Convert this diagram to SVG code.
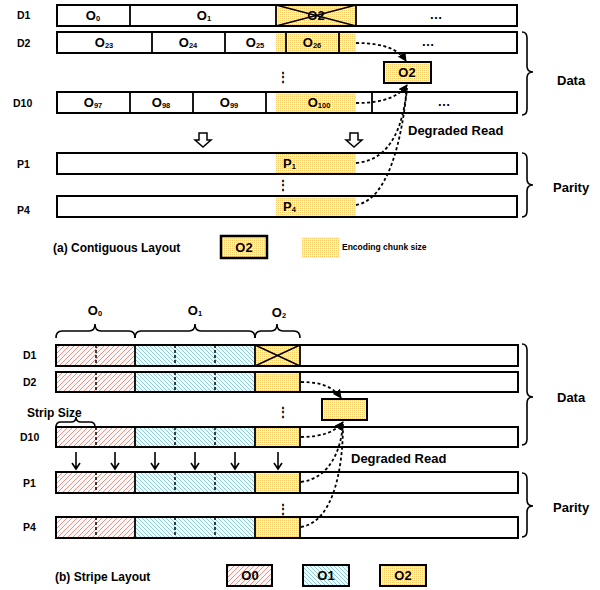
<svg xmlns="http://www.w3.org/2000/svg" width="600" height="590" viewBox="0 0 600 590">
<defs>
  <pattern id="dots" width="2" height="2" patternUnits="userSpaceOnUse">
    <rect width="2" height="2" fill="#FFF3CE"/>
    <rect width="1" height="1" fill="#F6CB66"/>
  </pattern>
  <pattern id="red" width="5" height="5" patternUnits="userSpaceOnUse">
    <rect width="5" height="5" fill="#FFF8F7"/>
    <path d="M-1,1 l2,-2 M0,5 l5,-5 M4,6 l2,-2" stroke="#E07A6E" stroke-width="0.8"/>
  </pattern>
  <pattern id="blue" width="4" height="4" patternUnits="userSpaceOnUse">
    <rect width="4" height="4" fill="#F7FCFE"/>
    <path d="M-1,3 l2,2 M0,0 l4,4 M3,-1 l2,2" stroke="#6FC0DA" stroke-width="0.8"/>
  </pattern>
  <marker id="ah" viewBox="0 0 10 10" refX="9" refY="5" markerWidth="9" markerHeight="9" markerUnits="userSpaceOnUse" orient="auto">
    <path d="M0,0 L10,5 L0,10 Z" fill="#000"/>
  </marker>
  <style>
    text { font-family: "Liberation Sans", Arial, sans-serif; font-weight: bold; fill: #000; }
    .lbl { font-size: 10.5px; }
    .o { font-size: 13px; text-anchor: middle; }
    .sub { font-size: 7.5px; }
    .big { font-size: 13px; }
    .cap { font-size: 12px; }
    .row { fill: #fff; stroke: #000; stroke-width: 2; }
    .box { stroke: #000; stroke-width: 2; }
    .div { stroke: #000; stroke-width: 1.8; }
    .dd { stroke: #000; stroke-width: 1.5; stroke-dasharray: 3 2; }
    .brace { fill: none; stroke: #000; stroke-width: 1.6; }
    .curve { fill: none; stroke: #000; stroke-width: 1.8; stroke-dasharray: 3 2.5; }
    .dots3 { font-size: 12px; text-anchor: middle; }
  </style>
</defs>
<rect width="600" height="590" fill="#fff"/>

<!-- ===== (a) Contiguous layout ===== -->
<g id="a-D1">
  <text class="lbl" x="17" y="19">D1</text>
  <rect class="row" x="57" y="5" width="460" height="21"/>
  <rect x="276" y="5" width="80" height="21" fill="url(#dots)"/>
  <line class="div" x1="130" y1="5" x2="130" y2="26"/>
  <line class="div" x1="276" y1="5" x2="276" y2="26"/>
  <line class="div" x1="356" y1="5" x2="356" y2="26"/>
  <rect x="57" y="5" width="460" height="21" fill="none" stroke="#000" stroke-width="2"/>
  <text class="o" x="93" y="20">O<tspan class="sub" dy="1">0</tspan></text>
  <text class="o" x="204" y="20">O<tspan class="sub" dy="1">1</tspan></text>
  <text class="o" x="316" y="20">O2</text>
  <line x1="276" y1="5" x2="356" y2="26" stroke="#000" stroke-width="1.5"/>
  <line x1="276" y1="26" x2="356" y2="5" stroke="#000" stroke-width="1.5"/>
  <text class="o" x="436" y="19">…</text>
</g>
<g id="a-D2">
  <text class="lbl" x="17" y="47">D2</text>
  <rect class="row" x="57" y="32" width="460" height="21"/>
  <rect x="276" y="32" width="80" height="21" fill="url(#dots)"/>
  <line class="div" x1="152" y1="32" x2="152" y2="53"/>
  <line class="div" x1="225" y1="32" x2="225" y2="53"/>
  <line class="div" x1="286" y1="32" x2="286" y2="53"/>
  <line class="div" x1="339" y1="32" x2="339" y2="53"/>
  <rect x="57" y="32" width="460" height="21" fill="none" stroke="#000" stroke-width="2"/>
  <text class="o" x="104" y="47">O<tspan class="sub" dy="1">23</tspan></text>
  <text class="o" x="188" y="47">O<tspan class="sub" dy="1">24</tspan></text>
  <text class="o" x="255" y="47">O<tspan class="sub" dy="1">25</tspan></text>
  <text class="o" x="312" y="47">O<tspan class="sub" dy="1">26</tspan></text>
  <text class="o" x="428" y="46">…</text>
</g>
<text class="dots3" x="283" y="81">⋮</text>
<g id="a-D10">
  <text class="lbl" x="13" y="107">D10</text>
  <rect class="row" x="57" y="92" width="460" height="21"/>
  <rect x="276" y="92" width="80" height="21" fill="url(#dots)"/>
  <line class="div" x1="130" y1="92" x2="130" y2="113"/>
  <line class="div" x1="193" y1="92" x2="193" y2="113"/>
  <line class="div" x1="266" y1="92" x2="266" y2="113"/>
  <line class="div" x1="372" y1="92" x2="372" y2="113"/>
  <rect x="57" y="92" width="460" height="21" fill="none" stroke="#000" stroke-width="2"/>
  <text class="o" x="93" y="107">O<tspan class="sub" dy="1">97</tspan></text>
  <text class="o" x="161" y="107">O<tspan class="sub" dy="1">98</tspan></text>
  <text class="o" x="229" y="107">O<tspan class="sub" dy="1">99</tspan></text>
  <text class="o" x="319" y="107">O<tspan class="sub" dy="1">100</tspan></text>
  <text class="o" x="444" y="106">…</text>
</g>
<g id="a-O2rec">
  <rect class="box" x="384" y="62" width="47" height="21" fill="url(#dots)"/>
  <text class="o" x="407" y="77">O2</text>
</g>
<g id="a-P1">
  <text class="lbl" x="17" y="168">P1</text>
  <rect class="row" x="57" y="153" width="460" height="21"/>
  <rect x="276" y="153" width="80" height="21" fill="url(#dots)"/>
  <rect x="57" y="153" width="460" height="21" fill="none" stroke="#000" stroke-width="2"/>
  <text class="big" x="283" y="168">P<tspan class="sub" dy="1">1</tspan></text>
</g>
<text class="dots3" x="283" y="189">⋮</text>
<g id="a-P4">
  <text class="lbl" x="17" y="214">P4</text>
  <rect class="row" x="57" y="196" width="460" height="21"/>
  <rect x="276" y="196" width="80" height="21" fill="url(#dots)"/>
  <rect x="57" y="196" width="460" height="21" fill="none" stroke="#000" stroke-width="2"/>
  <text class="big" x="283" y="211">P<tspan class="sub" dy="1">4</tspan></text>
</g>
<g id="a-braces">
  <path class="brace" d="M522,32 Q527,32 527,38 L527,66 Q527,72 533,72 Q527,72 527,78 L527,109 Q527,115 522,115"/>
  <text class="big" x="557" y="85">Data</text>
  <path class="brace" d="M522,153 Q527,153 527,159 L527,179 Q527,185 533,185 Q527,185 527,191 L527,211 Q527,217 522,217"/>
  <text class="big" x="553" y="192">Parity</text>
</g>
<text class="big" x="408" y="135">Degraded Read</text>
<g id="a-legend">
  <text class="cap" x="53" y="252">(a) Contiguous Layout</text>
  <rect x="221" y="236" width="46" height="22" fill="url(#dots)" stroke="#000" stroke-width="2.5"/>
  <text class="o" x="244" y="252">O2</text>
  <rect x="302" y="237" width="37" height="21" fill="url(#dots)"/>
  <text x="342" y="250" font-size="8.5">Encoding chunk size</text>
</g>

<!-- ===== (b) Stripe layout ===== -->
<g id="b-top-braces">
  <text class="o" x="95" y="315">O<tspan class="sub" dy="1">0</tspan></text>
  <text class="o" x="195" y="315">O<tspan class="sub" dy="1">1</tspan></text>
  <text class="o" x="279" y="317">O<tspan class="sub" dy="1">2</tspan></text>
  <path class="brace" d="M56,338 Q56,331 62,331 L89,331 Q95,331 95,324 Q95,331 101,331 L129,331 Q135,331 135,338"/>
  <path class="brace" d="M135,338 Q135,331 141,331 L189,331 Q195,331 195,324 Q195,331 201,331 L249,331 Q255,331 255,338"/>
  <path class="brace" d="M255,338 Q255,331 261,331 L271,331 Q277,331 277,324 Q277,331 283,331 L294,331 Q300,331 300,338"/>
</g>
<g id="b-D1">
  <text class="lbl" x="23" y="359">D1</text>
  <rect class="row" x="56" y="345" width="462" height="21"/>
  <rect x="56" y="345" width="79" height="21" fill="url(#red)"/>
  <rect x="135" y="345" width="120" height="21" fill="url(#blue)"/>
  <rect x="255" y="345" width="45" height="21" fill="url(#dots)"/>
  <line class="dd" x1="96" y1="345" x2="96" y2="366"/>
  <line class="dd" x1="175" y1="345" x2="175" y2="366"/>
  <line class="dd" x1="215" y1="345" x2="215" y2="366"/>
  <line class="div" x1="135" y1="345" x2="135" y2="366"/>
  <line class="div" x1="255" y1="345" x2="255" y2="366"/>
  <line class="div" x1="300" y1="345" x2="300" y2="366"/>
  <line x1="255" y1="345" x2="300" y2="366" stroke="#000" stroke-width="1.5"/>
  <line x1="255" y1="366" x2="300" y2="345" stroke="#000" stroke-width="1.5"/>
  <rect x="56" y="345" width="462" height="21" fill="none" stroke="#000" stroke-width="2"/>
</g>
<g id="b-D2">
  <text class="lbl" x="23" y="386">D2</text>
  <rect class="row" x="56" y="372" width="462" height="20"/>
  <rect x="56" y="372" width="79" height="20" fill="url(#red)"/>
  <rect x="135" y="372" width="120" height="20" fill="url(#blue)"/>
  <rect x="255" y="372" width="45" height="20" fill="url(#dots)"/>
  <line class="dd" x1="96" y1="372" x2="96" y2="392"/>
  <line class="dd" x1="175" y1="372" x2="175" y2="392"/>
  <line class="dd" x1="215" y1="372" x2="215" y2="392"/>
  <line class="div" x1="135" y1="372" x2="135" y2="392"/>
  <line class="div" x1="255" y1="372" x2="255" y2="392"/>
  <line class="div" x1="300" y1="372" x2="300" y2="392"/>
  <rect x="56" y="372" width="462" height="20" fill="none" stroke="#000" stroke-width="2"/>
</g>
<text class="dots3" x="283" y="416">⋮</text>
<g id="b-strip">
  <text x="27" y="417" font-size="12">Strip Size</text>
  <path class="brace" d="M56,427 Q56,422 61,422 L71,422 Q76,422 76,417 Q76,422 81,422 L90,422 Q95,422 95,427"/>
</g>
<g id="b-D10">
  <text class="lbl" x="20" y="441">D10</text>
  <rect class="row" x="56" y="427" width="462" height="20"/>
  <rect x="56" y="427" width="79" height="20" fill="url(#red)"/>
  <rect x="135" y="427" width="120" height="20" fill="url(#blue)"/>
  <rect x="255" y="427" width="45" height="20" fill="url(#dots)"/>
  <line class="dd" x1="96" y1="427" x2="96" y2="447"/>
  <line class="dd" x1="175" y1="427" x2="175" y2="447"/>
  <line class="dd" x1="215" y1="427" x2="215" y2="447"/>
  <line class="div" x1="135" y1="427" x2="135" y2="447"/>
  <line class="div" x1="255" y1="427" x2="255" y2="447"/>
  <line class="div" x1="300" y1="427" x2="300" y2="447"/>
  <rect x="56" y="427" width="462" height="20" fill="none" stroke="#000" stroke-width="2"/>
</g>
<g id="b-O2rec">
  <rect class="box" x="322" y="399" width="45" height="21" fill="url(#dots)"/>
</g>
<g id="b-P1">
  <text class="lbl" x="23" y="487">P1</text>
  <rect class="row" x="56" y="472" width="462" height="21"/>
  <rect x="56" y="472" width="79" height="21" fill="url(#red)"/>
  <rect x="135" y="472" width="120" height="21" fill="url(#blue)"/>
  <rect x="255" y="472" width="45" height="21" fill="url(#dots)"/>
  <line class="dd" x1="96" y1="472" x2="96" y2="493"/>
  <line class="dd" x1="175" y1="472" x2="175" y2="493"/>
  <line class="dd" x1="215" y1="472" x2="215" y2="493"/>
  <line class="div" x1="135" y1="472" x2="135" y2="493"/>
  <line class="div" x1="255" y1="472" x2="255" y2="493"/>
  <line class="div" x1="300" y1="472" x2="300" y2="493"/>
  <rect x="56" y="472" width="462" height="21" fill="none" stroke="#000" stroke-width="2"/>
</g>
<text class="dots3" x="283" y="513">⋮</text>
<g id="b-P4">
  <text class="lbl" x="23" y="531">P4</text>
  <rect class="row" x="56" y="517" width="462" height="21"/>
  <rect x="56" y="517" width="79" height="21" fill="url(#red)"/>
  <rect x="135" y="517" width="120" height="21" fill="url(#blue)"/>
  <rect x="255" y="517" width="45" height="21" fill="url(#dots)"/>
  <line class="dd" x1="96" y1="517" x2="96" y2="538"/>
  <line class="dd" x1="175" y1="517" x2="175" y2="538"/>
  <line class="dd" x1="215" y1="517" x2="215" y2="538"/>
  <line class="div" x1="135" y1="517" x2="135" y2="538"/>
  <line class="div" x1="255" y1="517" x2="255" y2="538"/>
  <line class="div" x1="300" y1="517" x2="300" y2="538"/>
  <rect x="56" y="517" width="462" height="21" fill="none" stroke="#000" stroke-width="2"/>
</g>
<g id="b-braces">
  <path class="brace" d="M522,344 Q527,344 527,350 L527,391 Q527,397 533,397 Q527,397 527,403 L527,439 Q527,445 522,445"/>
  <text class="big" x="557" y="402">Data</text>
  <path class="brace" d="M522,473 Q527,473 527,479 L527,500 Q527,506 533,506 Q527,506 527,512 L527,531 Q527,537 522,537"/>
  <text class="big" x="553" y="512">Parity</text>
</g>
<text class="big" x="351" y="463">Degraded Read</text>
<g id="b-legend">
  <text class="cap" x="55" y="581">(b) Stripe Layout</text>
  <rect x="227" y="565" width="45" height="21" fill="url(#red)" stroke="#000" stroke-width="2"/>
  <text class="o" x="250" y="580">O0</text>
  <rect x="303" y="565" width="46" height="21" fill="url(#blue)" stroke="#000" stroke-width="2"/>
  <text class="o" x="326" y="580">O1</text>
  <rect x="380" y="565" width="46" height="21" fill="url(#dots)" stroke="#000" stroke-width="2"/>
  <text class="o" x="403" y="580">O2</text>
</g>

<!-- ===== connectors ===== -->
<g id="connectors">
  <path d="M199,133 H207 V140 H211 L203,147 L195,140 H199 Z" fill="#fff" stroke="#000" stroke-width="1.5"/>
  <path d="M350,133 H358 V140 H362 L354,147 L346,140 H350 Z" fill="#fff" stroke="#000" stroke-width="1.5"/>
  <path class="curve" d="M356,43 C385,43 399,50 406,61" marker-end="url(#ah)"/>
  <path class="curve" d="M356,103 C385,103 399,96 407,85" marker-end="url(#ah)"/>
  <path class="curve" d="M356,163 C392,160 403,125 407,88"/>
  <path class="curve" d="M356,205 C388,200 402,140 407,88"/>

  <path class="curve" d="M301,382 C323,382 334,388 341,398" marker-end="url(#ah)"/>
  <path class="curve" d="M301,437 C323,437 336,431 343,422" marker-end="url(#ah)"/>
  <path class="curve" d="M301,482 C330,478 341,450 343,424"/>
  <path class="curve" d="M301,527 C333,522 343,470 343,424"/>

  <g fill="none" stroke="#000" stroke-width="1.6">
    <path d="M76,452 V469 M72,463 L76,469 L80,463"/>
    <path d="M115,452 V469 M111,463 L115,469 L119,463"/>
    <path d="M155,452 V469 M151,463 L155,469 L159,463"/>
    <path d="M195,452 V469 M191,463 L195,469 L199,463"/>
    <path d="M235,452 V469 M231,463 L235,469 L239,463"/>
    <path d="M278,452 V469 M274,463 L278,469 L282,463"/>
  </g>
</g>
</svg>
